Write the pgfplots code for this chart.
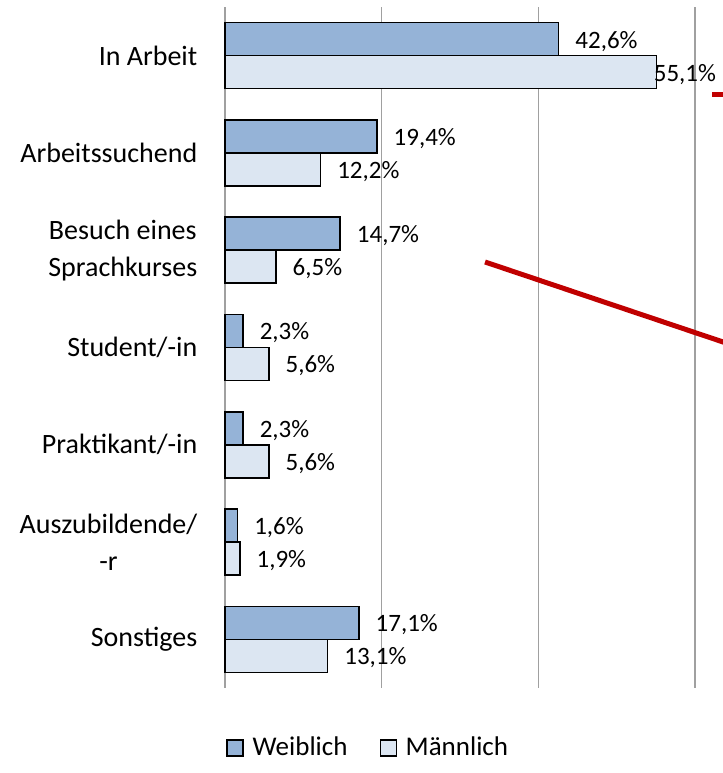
\documentclass[border=0pt]{standalone}
\usepackage{pgfplots}
\pgfplotsset{compat=1.18}
\usepackage{pgfplotstable}
\usepackage{fontspec}
\setmainfont{Carlito}
\definecolor{weib}{HTML}{95B3D7}
\definecolor{maen}{HTML}{DCE6F2}
\definecolor{gridg}{HTML}{A0A0A0}
\definecolor{redl}{HTML}{C00000}

\pgfplotstableread{
y val off
0 42.6 8
1 19.4 8
2 14.7 8
3 2.3 8
4 2.3 8
5 1.6 8
6 17.1 8
}\weiblich
\pgfplotstableread{
y val off
0 55.1 -1.75
1 12.2 8
2 6.5 8
3 5.6 8
4 5.6 8
5 1.9 8
6 13.1 8
}\maennlich

\begin{document}
\begin{tikzpicture}
\fontsize{14}{18.5}\selectfont
\begin{axis}[
  name=a,
  scale only axis,
  width=235pt, height=340.5pt,
  xmin=0, xmax=60,
  ymin=-0.5, ymax=6.5,
  y dir=reverse,
  xbar,
  bar width=16.5pt,
  axis line style={draw=none},
  major tick length=0pt,
  xtick={0,20,40,60},
  xticklabels={},
  xmajorgrids,
  grid style={gridg, line width=0.75pt},
  ytick={0,1,2,3,4,5,6},
  yticklabels={In Arbeit, Arbeitssuchend, {Besuch eines\\Sprachkurses}, Student/-in, Praktikant/-in, {Auszubildende/\\-r}, Sonstiges},
  yticklabel style={align=center, font=\fontsize{14}{18.5}\selectfont, xshift=-9pt},
  clip=false,
  /pgf/number format/assume math mode=true,
  nodes near coords={\pgfmathprintnumber[fixed,zerofill,precision=1,use comma,assume math mode=true]{\pgfplotspointmeta}\%},
  nodes near coords style={anchor=west, inner sep=0pt, font=\fontsize{12.5}{14}\selectfont, text=black, yshift=-1pt},
  visualization depends on={\thisrow{off} \as \myoff},
  every node near coord/.append style={xshift=\myoff pt},
  legend style={draw=none, at={(0.307,-0.088)}, anchor=center, legend columns=2,
    font=\fontsize{13.5}{15}\selectfont, /tikz/every even column/.append style={column sep=14pt},
    /tikz/every odd column/.append style={column sep=0pt}},
  legend image code/.code={\draw[#1, line width=0.6pt] (0pt,-4pt) rectangle (8pt,4pt);},
]
\addplot[draw=black, line width=0.75pt, fill=weib, bar shift=8.25pt] table[x=val, y=y] {\weiblich};
\addlegendentry{\hspace{2.5pt}Weiblich}
\addplot[draw=black, line width=0.75pt, fill=maen, bar shift=-8.25pt] table[x=val, y=y] {\maennlich};
\addlegendentry{\hspace{2.5pt}Männlich}
\end{axis}
\draw[redl, line width=2.5pt] ([shift={(130pt,213pt)}]a.south west) -- ([shift={(252pt,172pt)}]a.south west);
\draw[redl, line width=2.5pt] ([shift={(243.5pt,296.5pt)}]a.south west) -- ([shift={(252pt,296.5pt)}]a.south west);
\pgfresetboundingbox
\path[use as bounding box] ([shift={(-112.5pt,-42.5pt)}]a.south west) rectangle ([shift={(13.5pt,3.5pt)}]a.north east);
\end{tikzpicture}
\end{document}
